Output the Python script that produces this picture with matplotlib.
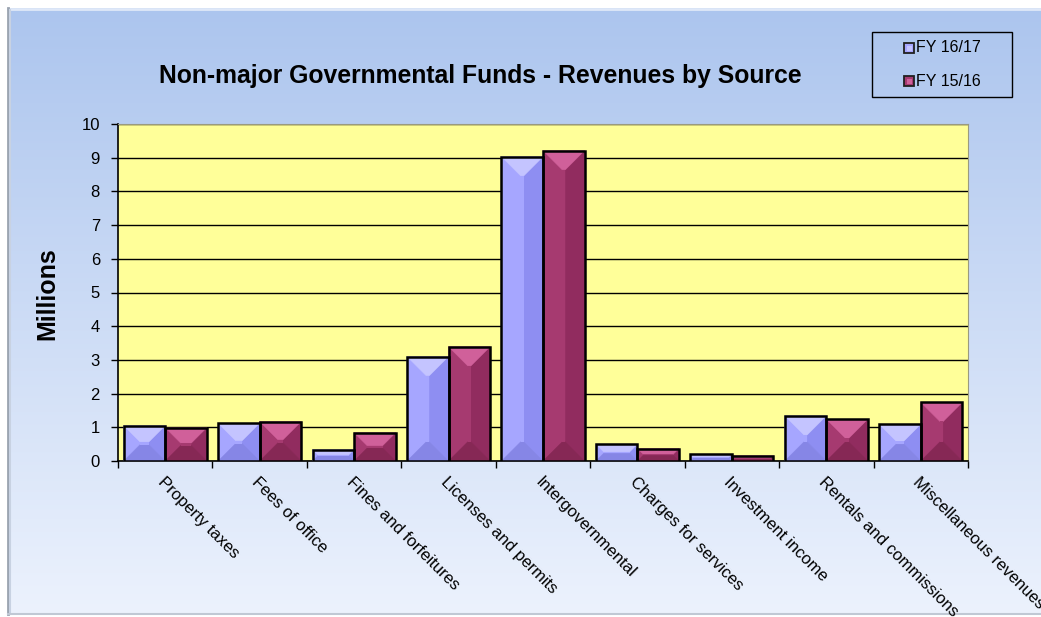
import numpy as np
import matplotlib
matplotlib.use("Agg")
import matplotlib.pyplot as plt
from matplotlib.patches import Polygon, Rectangle

plt.rcParams['font.family'] = ['Liberation Sans', 'DejaVu Sans']

# Revenues by source, in millions
categories = ["Property taxes", "Fees of office", "Fines and forfeitures",
              "Licenses and permits", "Intergovernmental", "Charges for services",
              "Investment income", "Rentals and commissions", "Miscellaneous revenues"]
fy_1617 = [1.05, 1.12, 0.34, 3.10, 9.03, 0.50, 0.20, 1.34, 1.09]
fy_1516 = [0.99, 1.17, 0.84, 3.39, 9.21, 0.37, 0.16, 1.24, 1.74]
series_names = ["FY 16/17", "FY 15/16"]

W, H = 1041, 617
fig = plt.figure(figsize=(W / 100, H / 100), dpi=100)
fig.patch.set_facecolor("white")

# background panel with vertical gradient (pixel coordinates)
bg = fig.add_axes([0, 0, 1, 1], zorder=-1)
bg.set_xlim(0, W)
bg.set_ylim(H, 0)
bg.axis("off")
top_c = np.array([172, 197, 238]) / 255
bot_c = np.array([236, 242, 253]) / 255
t = np.linspace(0, 1, 256)[:, None]
grad = top_c * (1 - t) + bot_c * t
bg.imshow(grad[:, None, :], extent=[8, W + 5, H - 3, 8], aspect="auto")
bg.plot([8, W], [9, 9], color="#dfe8f8", lw=2)
bg.plot([8, 8], [8, H - 3], color="#9aa3b0", lw=2)
bg.plot([10, 10], [10, H - 3], color="#c8d2e2", lw=1.5)
bg.plot([8, W], [H - 3, H - 3], color="#c0c8d4", lw=1.5)

# plot area
L, R, B, T = 118, 968, 461, 124
ax = fig.add_axes([L / W, 1 - B / H, (R - L) / W, (B - T) / H])
ax.set_facecolor("#ffff99")
n = len(categories)
ax.set_xlim(0, n)
ax.set_ylim(0, 10)
ax.set_yticks(range(0, 11))
ax.yaxis.grid(True, color="black", lw=1)
ax.set_axisbelow(True)
ax.tick_params(axis="y", labelsize=12, length=5, width=1, pad=8)

# tick marks on category boundaries, labels at the centres
ax.set_xticks(np.arange(0, n + 1))
ax.set_xticklabels([])
ax.tick_params(axis="x", which="major", length=5, width=1)
ax.set_xticks(np.arange(n) + 0.5, minor=True)
ax.set_xticklabels(categories, minor=True, rotation=-45, ha="left",
                   rotation_mode="anchor", fontsize=12)
ax.tick_params(axis="x", which="minor", length=0, pad=10)
for lab in ax.get_xticklabels(minor=True):
    lab.set_va("top")

for s in ["left", "bottom"]:
    ax.spines[s].set_color("black")
    ax.spines[s].set_linewidth(1.2)
for s in ["top", "right"]:
    ax.spines[s].set_color("#9a9a80")
    ax.spines[s].set_linewidth(0.8)

x = np.arange(n) + 0.5
bw = 0.44
blue_shades = ["#c4c4ff", "#a6a6ff", "#8e8ef2", "#8686e6"]
red_shades = ["#d0609a", "#a63a70", "#912c5f", "#862855"]

sx = (R - L) / n       # pixels per category
sy = (B - T) / 10      # pixels per million


def bevel(bar, shades):
    x0, y0 = bar.get_x(), bar.get_y()
    w, h = bar.get_width(), bar.get_height()
    x1, y1 = x0 + w, y0 + h
    a = min(w * sx, h * sy) / 2 * 0.92
    ax_, ay_ = a / sx, a / sy
    ix0, ix1 = x0 + ax_, x1 - ax_
    iy0, iy1 = y0 + ay_, y1 - ay_
    top, left, right, bottom = shades
    polys = [
        ([(x0, y0), (x0, y1), (ix0, iy1), (ix0, iy0)], left),
        ([(x1, y0), (x1, y1), (ix1, iy1), (ix1, iy0)], right),
        ([(x0, y0), (x1, y0), (ix1, iy0), (ix0, iy0)], bottom),
        ([(x0, y1), (x1, y1), (ix1, iy1), (ix0, iy1)], top),
    ]
    for pts, c in polys:
        ax.add_patch(Polygon(pts, closed=True, facecolor=c, edgecolor=c,
                             lw=0.3, zorder=3))
    if ix1 > ix0:
        ax.add_patch(Rectangle((ix0, iy0), ix1 - ix0, iy1 - iy0,
                               facecolor=left, edgecolor="none", zorder=3))
    ax.add_patch(Rectangle((x0, y0), w, h, facecolor="none",
                           edgecolor="black", lw=1.8, zorder=4))


b1 = ax.bar(x - bw / 2, fy_1617, bw, color=blue_shades[1], zorder=2)
b2 = ax.bar(x + bw / 2, fy_1516, bw, color=red_shades[1], zorder=2)
for bar in b1:
    bevel(bar, blue_shades)
for bar in b2:
    bevel(bar, red_shades)

fig.text(47 / W, 1 - 294 / H, "Millions", rotation=90, ha="center", va="center",
         fontsize=18, fontweight="bold")

fig.text(480 / W, 1 - 76 / H, "Non-major Governmental Funds - Revenues by Source",
         ha="center", va="center", fontsize=17.8, fontweight="bold")

# legend box drawn in pixel coordinates
bg.add_patch(Rectangle((872, 32), 140, 65, facecolor="none", edgecolor="black", lw=1.0))
for i, (name, shades) in enumerate(zip(series_names, [blue_shades, red_shades])):
    yc = 48 + i * 33
    bg.add_patch(Rectangle((904, yc - 5), 10, 10, facecolor=shades[1],
                           edgecolor="#202020", lw=1.3))
    bg.add_patch(Rectangle((906.5, yc - 2.5), 5, 5, facecolor=shades[0],
                           edgecolor="none"))
    bg.text(916, yc, name, ha="left", va="center", fontsize=11.5)

fig.savefig("out.png", dpi=100)
